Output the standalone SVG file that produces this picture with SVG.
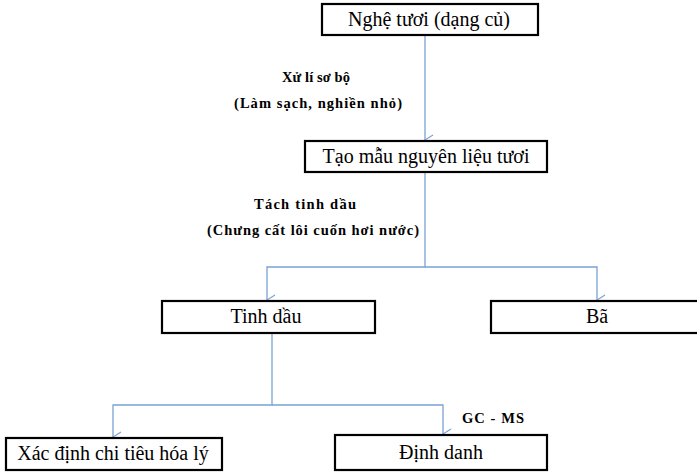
<svg xmlns="http://www.w3.org/2000/svg" width="697" height="472" viewBox="0 0 697 472">
<defs>
<marker id="arr" markerWidth="12" markerHeight="10" refX="6" refY="9" orient="auto" markerUnits="userSpaceOnUse" viewBox="0 0 12 10">
<path d="M1,1 L6,9 L11,1" fill="none" stroke="#7aa2d4" stroke-width="1.2"/>
</marker>
<style>
.box{fill:#fff;stroke:#000;stroke-width:2.2}
.t{font-size:20px;fill:#000;text-anchor:middle}
.l{font-size:14.5px;font-weight:bold;fill:#000;text-anchor:middle}
.c{fill:none;stroke:#7aa2d4;stroke-width:1.3}
</style>
</defs>
<rect width="697" height="472" fill="#fff"/>
<g id="connectors">
<path class="c" d="M425,35 V140" marker-end="url(#arr)"/>
<path class="c" d="M425,172 V267 H267 V300" marker-end="url(#arr)"/>
<path class="c" d="M425,267 H597 V300" marker-end="url(#arr)"/>
<path class="c" d="M272,334 V405 H113 V437" marker-end="url(#arr)"/>
<path class="c" d="M272,405 H443 V434" marker-end="url(#arr)"/>
</g>
<g id="labels" font-family="Liberation Serif, DejaVu Serif, serif">
<text class="l" x="316" y="82" textLength="68" lengthAdjust="spacing">Xử lí sơ bộ</text>
<text class="l" x="318" y="108" textLength="168" lengthAdjust="spacing">(Làm sạch, nghiền nhỏ)</text>
<text class="l" x="305" y="209" textLength="102" lengthAdjust="spacing">Tách tinh dầu</text>
<text class="l" x="313" y="235" textLength="212" lengthAdjust="spacing">(Chưng cất lôi cuốn hơi nước)</text>
<text class="l" x="493" y="423" textLength="62" lengthAdjust="spacing">GC - MS</text>
</g>
<g font-family="Liberation Serif, DejaVu Serif, serif">
<g id="n1"><rect class="box" x="322" y="4" width="216" height="31"/><text class="t" x="429" y="26">Nghệ tươi (dạng củ)</text></g>
<g id="n2"><rect class="box" x="305" y="141" width="242" height="31"/><text class="t" x="426" y="163">Tạo mẫu nguyên liệu tươi</text></g>
<g id="n3"><rect class="box" x="162" y="301" width="213" height="32"/><text class="t" x="266" y="323">Tinh dầu</text></g>
<g id="n4"><rect class="box" x="491" y="301" width="212" height="32"/><text class="t" x="597" y="323">Bã</text></g>
<g id="n5"><rect class="box" x="6" y="438" width="216" height="32"/><text class="t" x="113" y="460">Xác định chi tiêu hóa lý</text></g>
<g id="n6"><rect class="box" x="335" y="435" width="212" height="35"/><text class="t" x="441" y="459">Định danh</text></g>
</g>
</svg>
